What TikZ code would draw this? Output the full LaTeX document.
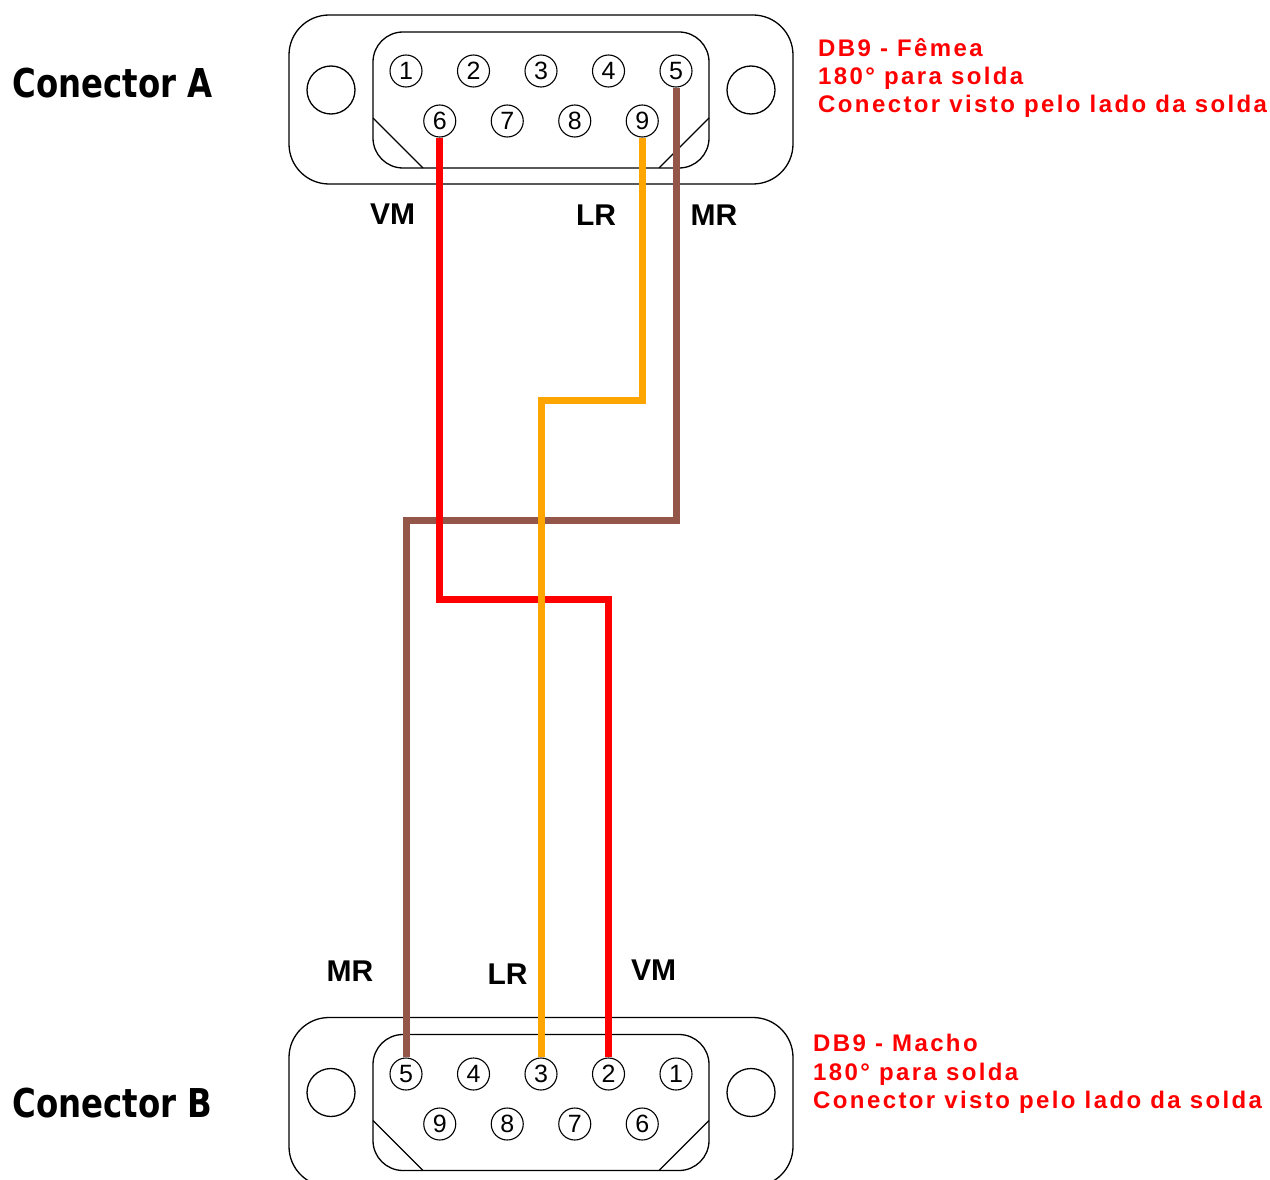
\documentclass[tikz,border=0pt]{standalone}
\usepackage{graphicx}
\usepackage{fontspec}
\setmainfont{Liberation Sans}
\newfontfamily\condfont{DejaVu Sans Condensed}
\newfontfamily\spacedfont{Liberation Sans}[LetterSpace=10]
\definecolor{wirebrown}{RGB}{147,86,72}
\definecolor{wireorange}{RGB}{255,165,0}
\definecolor{wirered}{RGB}{255,0,0}
\begin{document}
\begin{tikzpicture}[x=1pt,y=-1pt,
  shell/.style={draw=black, line width=1.3pt},
  pinc/.style={circle, draw=black, line width=1.1pt, minimum size=32pt, inner sep=0pt,
    font=\fontsize{25}{25}\selectfont},
  wire/.style={line width=7pt, line join=miter, line cap=butt},
  lbl/.style={font=\bfseries\fontsize{30}{30}\selectfont, inner sep=0pt},
  note/.style={text=wirered, font=\spacedfont\bfseries\fontsize{24}{28}\selectfont,
    anchor=base west, inner sep=0pt},
  title/.style={anchor=base west, inner sep=0pt}]
\useasboundingbox (0,0) rectangle (1270,1180);
\clip (0,0) rectangle (1270,1180);
\fill[white] (0,0) rectangle (1270,1180);

% ---------- connector shells ----------
\foreach \dy in {0,1002.5}{
  \begin{scope}[shift={(0,\dy)}]
    \draw[shell, rounded corners=40pt] (289,15) rectangle (793,184);
    \draw[shell, rounded corners=30pt] (373,32) rectangle (709,168);
    \draw[shell] (373,118) -- (423,168);
    \draw[shell] (709,118) -- (659,168);
    \draw[shell] (331,90) circle[radius=24pt];
    \draw[shell] (751,90) circle[radius=24pt];
  \end{scope}
}

% ---------- pins connector A ----------
\node[pinc] (a1) at (406,71) {1};
\node[pinc] (a2) at (473.5,71) {2};
\node[pinc] (a3) at (541,71) {3};
\node[pinc] (a4) at (608.5,71) {4};
\node[pinc] (a5) at (676,71) {5};
\node[pinc] (a6) at (439.75,121) {6};
\node[pinc] (a7) at (507.25,121) {7};
\node[pinc] (a8) at (574.75,121) {8};
\node[pinc] (a9) at (642.25,121) {9};

% ---------- pins connector B ----------
\node[pinc] (b5) at (406,1074) {5};
\node[pinc] (b4) at (473.5,1074) {4};
\node[pinc] (b3) at (541,1074) {3};
\node[pinc] (b2) at (608.5,1074) {2};
\node[pinc] (b1) at (676,1074) {1};
\node[pinc] (b9) at (439.75,1124) {9};
\node[pinc] (b8) at (507.25,1124) {8};
\node[pinc] (b7) at (574.75,1124) {7};
\node[pinc] (b6) at (642.25,1124) {6};

% ---------- wires ----------
\coordinate (yb) at (0,520);
\coordinate (yr) at (0,599);
\coordinate (yo) at (0,400);
\draw[wire, wirebrown] (a5.south) -- (a5.south |- yb) -| (b5.north);
\draw[wire, wirered] (a6.south) -- (a6.south |- yr) -| (b2.north);
\draw[wire, wireorange] (a9.south) -- (a9.south |- yo) -| (b3.north);

% ---------- wire labels ----------
\node[lbl] (vma) at (392.5,214) {VM};
\node[lbl] (lra) at (596,215) {LR};
\node[lbl] (mra) at (714,215) {MR};
\node[lbl] (mrb) at (350,971.5) {MR};
\node[lbl] (lrb) at (507.5,974) {LR};
\node[lbl] (vmb) at (653.5,970) {VM};

% ---------- titles ----------
\node[title] (ca) at (12.5,98) {\resizebox{200pt}{29.5pt}{\condfont\bfseries Conector A}};
\node[title] (cb) at (12.5,1117.5) {\resizebox{200pt}{29.5pt}{\condfont\bfseries Conector B}};

% ---------- notes ----------
\node[note] (na1) at (818,57) {DB9 - Fêmea};
\node[note] (na2) at (818,85) {180° para solda};
\node[note] (na3) at (818,113) {Conector visto pelo lado da solda};
\node[note] (nb1) at (813,1051.5) {DB9 - Macho};
\node[note] (nb2) at (813,1080) {180° para solda};
\node[note] (nb3) at (813,1108) {Conector visto pelo lado da solda};
\end{tikzpicture}
\end{document}
